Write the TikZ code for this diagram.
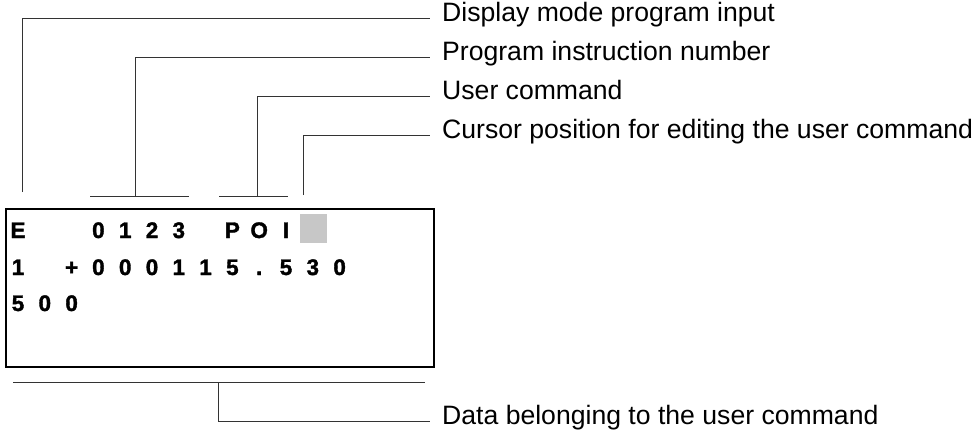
\documentclass[tikz,border=0pt]{standalone}
\usepackage{fontspec}
\setmainfont{Liberation Sans}
\newfontfamily\dispfont{Liberation Sans Bold}[FakeBold=1.5]
\begin{document}
\begin{tikzpicture}[x=1pt,y=-1pt,
    lead/.style={draw=black!80,line width=0.9pt},
    lbl/.style={anchor=west,inner xsep=12pt,inner ysep=0pt,text height=0.72em,text depth=0pt,
        font=\fontsize{26.6}{30}\selectfont},
    chr/.style={inner sep=0pt,text height=16pt,text depth=0pt,
        font=\dispfont\fontsize{22.5}{26}\selectfont}]
    \useasboundingbox (0,0) rectangle (977,441);

    % display frame
    \node[draw,line width=2.4pt,minimum width=427.6pt,minimum height=158pt,inner sep=0pt] (display) at (220,288) {};

    % cursor cell
    \node[fill=black!22,minimum width=27pt,minimum height=29pt,inner sep=0pt] (cursor) at (313.4,228.5) {};

    % row 1
    \foreach \c/\ch in {0/E,3/0,4/1,5/2,6/3,8/P,9/O,10/I}
        \node[chr] (ra\c) at (18+26.8*\c,230) {\ch};
    % row 2
    \foreach \c/\ch in {0/1,2/+,3/0,4/0,5/0,6/1,7/1,8/5,9/.,10/5,11/3,12/0}
        \node[chr] (rb\c) at (18+26.8*\c,267) {\ch};
    % row 3
    \foreach \c/\ch in {0/5,1/0,2/0}
        \node[chr] (rc\c) at (18+26.8*\c,303) {\ch};

    % points on the display
    \coordinate (pmode) at (22,192);
    \coordinate (pnum) at (135,196);
    \coordinate (pcmd) at (257,196);
    \coordinate (pcur) at (303,195);
    \coordinate (pdata) at (218,382);

    % brackets
    \coordinate (bnuml) at (90,196);
    \coordinate (bnumr) at (189,196);
    \coordinate (bcmdl) at (219,196);
    \coordinate (bcmdr) at (288,196);
    \coordinate (bdatal) at (13,382);
    \coordinate (bdatar) at (425,382);
    \draw[lead] (bnuml) -- (bnumr);
    \draw[lead] (bcmdl) -- (bcmdr);
    \draw[lead] (bdatal) -- (bdatar);

    % labels
    \node[lbl] (lmode) at (430,18) {Display mode program input};
    \node[lbl] (lnum) at (430,57) {Program instruction number};
    \node[lbl] (lcmd) at (430,96) {User command};
    \node[lbl] (lcur) at (430,135) {Cursor position for editing the user command};
    \node[lbl] (ldata) at (430,421) {Data belonging to the user command};

    % leaders
    \draw[lead] (pmode) |- (lmode.west);
    \draw[lead] (pnum) |- (lnum.west);
    \draw[lead] (pcmd) |- (lcmd.west);
    \draw[lead] (pcur) |- (lcur.west);
    \draw[lead] (pdata) |- (ldata.west);
\end{tikzpicture}
\end{document}
